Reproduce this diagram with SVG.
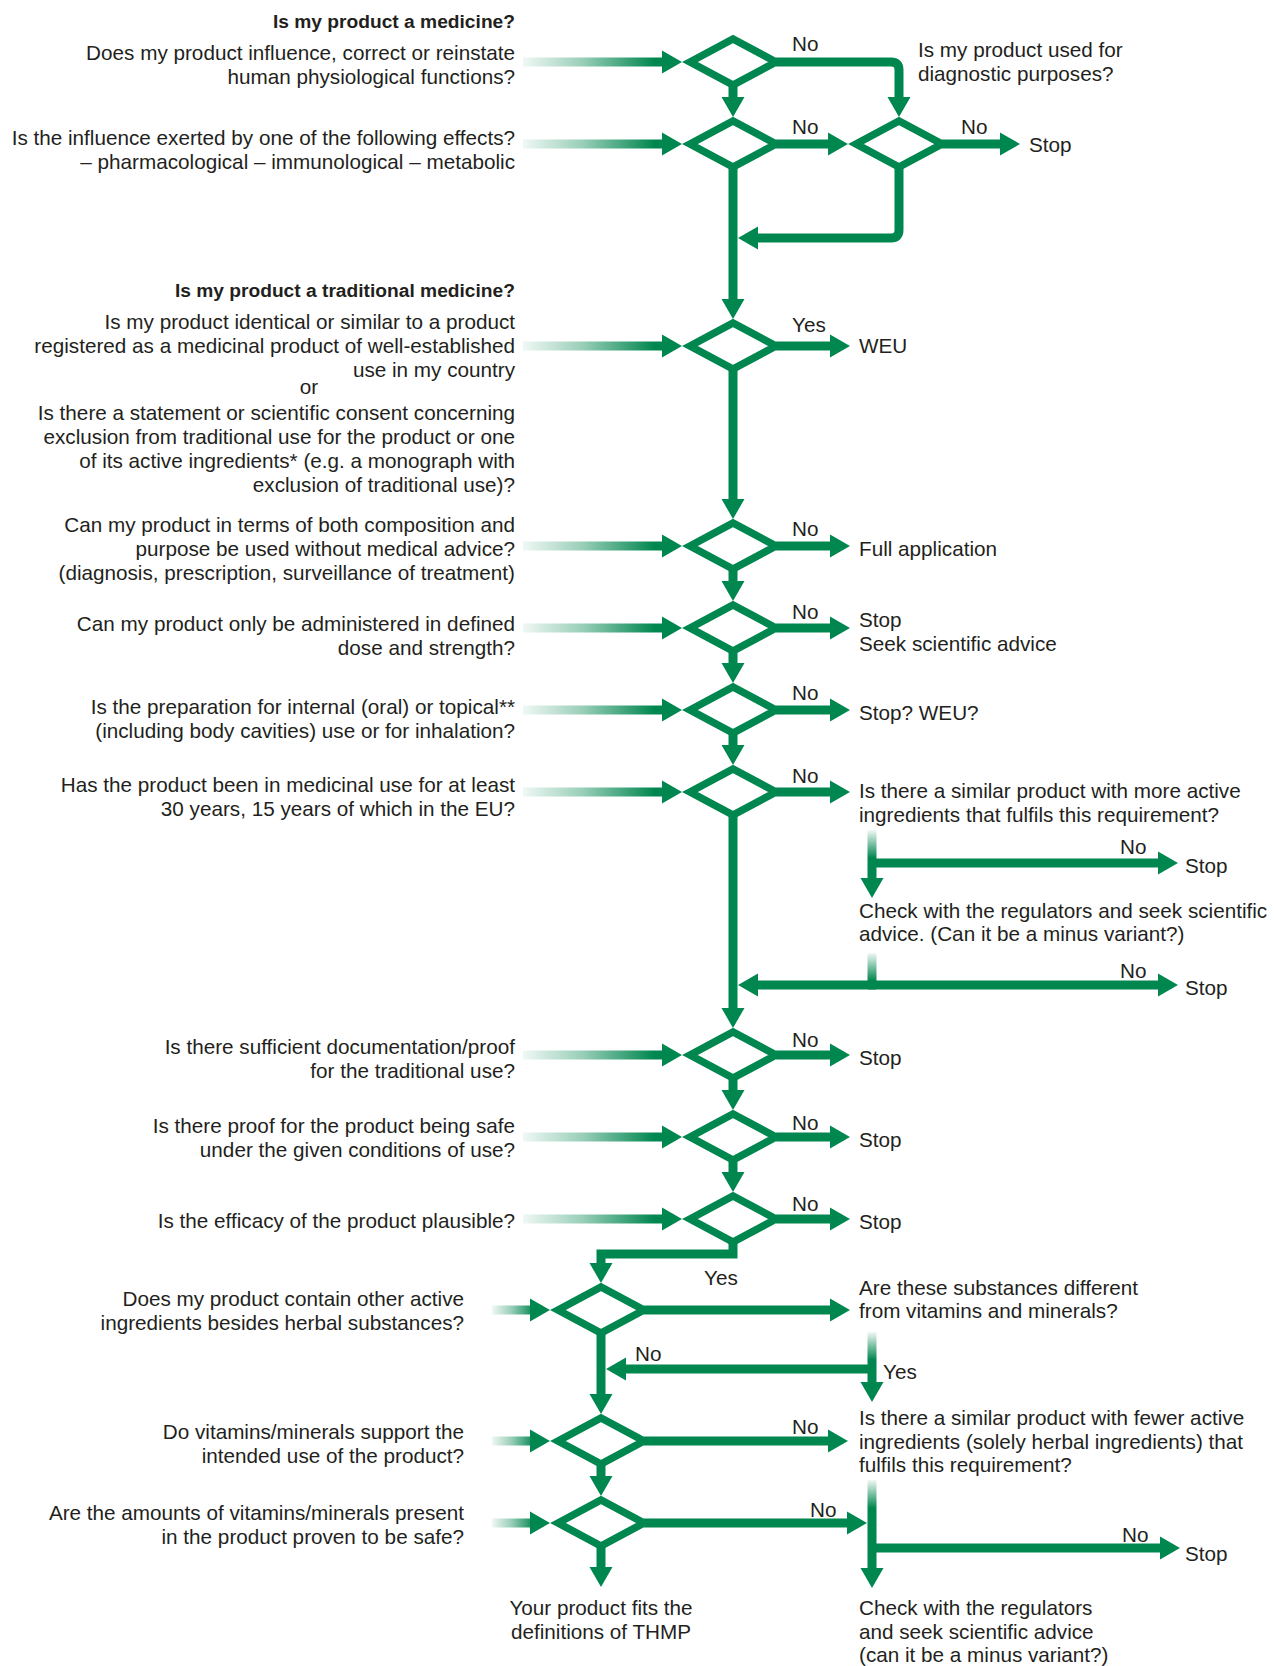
<svg xmlns="http://www.w3.org/2000/svg" xmlns:xlink="http://www.w3.org/1999/xlink" width="1274" height="1666" viewBox="0 0 1274 1666">
<style>
.c{fill:none;stroke:#00864F;stroke-width:9;stroke-linejoin:miter}
.a{marker-end:url(#ah)}
.d{fill:#fff;stroke:#00864F;stroke-width:7.5;stroke-linejoin:miter}
.t{font-family:"Liberation Sans",Arial,sans-serif;font-size:20.7px;fill:#231f20}
.r{text-anchor:end}
.m{text-anchor:middle}
.h{font-weight:bold;font-size:19.2px}
</style>
<defs>
<marker id="ah" viewBox="0 -12 21 24" refX="1" refY="0" markerWidth="21" markerHeight="24" markerUnits="userSpaceOnUse" orient="auto"><path d="M0,-11.5 L20,0 L0,11.5 z" fill="#00864F"/></marker>
<polygon id="dm" points="-43,0 0,-23 43,0 0,23"/>
<linearGradient id="gH" gradientUnits="userSpaceOnUse" x1="523" y1="0" x2="655" y2="0"><stop offset="0" stop-color="#00864F" stop-opacity="0.06"/><stop offset="0.45" stop-color="#00864F" stop-opacity="0.4"/><stop offset="1" stop-color="#00864F" stop-opacity="1"/></linearGradient>
<linearGradient id="gH2" gradientUnits="userSpaceOnUse" x1="492" y1="0" x2="535" y2="0"><stop offset="0" stop-color="#00864F" stop-opacity="0.06"/><stop offset="0.45" stop-color="#00864F" stop-opacity="0.4"/><stop offset="1" stop-color="#00864F" stop-opacity="1"/></linearGradient>
<linearGradient id="gV1" gradientUnits="userSpaceOnUse" x1="0" y1="830" x2="0" y2="858"><stop offset="0" stop-color="#00864F" stop-opacity="0.05"/><stop offset="1" stop-color="#00864F"/></linearGradient>
<linearGradient id="gV2" gradientUnits="userSpaceOnUse" x1="0" y1="953" x2="0" y2="981"><stop offset="0" stop-color="#00864F" stop-opacity="0.05"/><stop offset="1" stop-color="#00864F"/></linearGradient>
<linearGradient id="gV3" gradientUnits="userSpaceOnUse" x1="0" y1="1332" x2="0" y2="1360"><stop offset="0" stop-color="#00864F" stop-opacity="0.05"/><stop offset="1" stop-color="#00864F"/></linearGradient>
<linearGradient id="gV4" gradientUnits="userSpaceOnUse" x1="0" y1="1480" x2="0" y2="1508"><stop offset="0" stop-color="#00864F" stop-opacity="0.05"/><stop offset="1" stop-color="#00864F"/></linearGradient>
</defs>
<rect width="1274" height="1666" fill="#fff"/>

<g id="connectors">
<!-- incoming gradient arrows -->
<path class="c a" style="stroke:url(#gH)" d="M523,62 H663"/>
<path class="c a" style="stroke:url(#gH)" d="M523,144 H663"/>
<path class="c a" style="stroke:url(#gH)" d="M523,346 H663"/>
<path class="c a" style="stroke:url(#gH)" d="M523,546 H663"/>
<path class="c a" style="stroke:url(#gH)" d="M523,628 H663"/>
<path class="c a" style="stroke:url(#gH)" d="M523,710 H663"/>
<path class="c a" style="stroke:url(#gH)" d="M523,792 H663"/>
<path class="c a" style="stroke:url(#gH)" d="M523,1055 H663"/>
<path class="c a" style="stroke:url(#gH)" d="M523,1137 H663"/>
<path class="c a" style="stroke:url(#gH)" d="M523,1219 H663"/>
<path class="c a" style="stroke:url(#gH2)" d="M492,1310 H531"/>
<path class="c a" style="stroke:url(#gH2)" d="M492,1441 H531"/>
<path class="c a" style="stroke:url(#gH2)" d="M492,1523 H531"/>
<!-- top section -->
<path class="c a" d="M733,85 V98"/>
<path class="c a" d="M776,62 H891 Q899,62 899,70 V98"/>
<path class="c a" d="M776,144 H829"/>
<path class="c a" d="M942,144 H1001"/>
<path class="c a" d="M899,167 V230 Q899,238 891,238 H757"/>
<path class="c a" d="M733,167 V300"/>
<!-- traditional medicine column -->
<path class="c a" d="M776,346 H831"/>
<path class="c a" d="M733,369 V500"/>
<path class="c a" d="M776,546 H831"/>
<path class="c a" d="M733,569 V582"/>
<path class="c a" d="M776,628 H831"/>
<path class="c a" d="M733,651 V664"/>
<path class="c a" d="M776,710 H831"/>
<path class="c a" d="M733,733 V746"/>
<path class="c a" d="M776,792 H831"/>
<path class="c a" d="M733,815 V1009"/>
<path class="c a" style="stroke:url(#gV1)" d="M872,830 V879"/>
<path class="c a" d="M872,863 H1159"/>
<path class="c" style="stroke:url(#gV2)" d="M872,953 V985"/>
<path class="c a" d="M876,985 H757"/>
<path class="c a" d="M868,985 H1159"/>
<path class="c a" d="M776,1055 H831"/>
<path class="c a" d="M733,1078 V1091"/>
<path class="c a" d="M776,1137 H831"/>
<path class="c a" d="M733,1160 V1173"/>
<path class="c a" d="M776,1219 H831"/>
<path class="c a" d="M733,1242 V1254 H601 V1264"/>
<!-- lower column -->
<path class="c a" d="M644,1310 H831"/>
<path class="c a" d="M601,1333 V1395"/>
<path class="c a" style="stroke:url(#gV3)" d="M872,1332 V1383"/>
<path class="c a" d="M876,1369 H625"/>
<path class="c a" d="M644,1441 H829"/>
<path class="c a" d="M601,1464 V1477"/>
<path class="c a" d="M644,1523 H848"/>
<path class="c a" style="stroke:url(#gV4)" d="M872,1480 V1569"/>
<path class="c a" d="M872,1548 H1161"/>
<path class="c a" d="M601,1546 V1568"/>
<!-- connector labels -->
<g class="t">
<text x="792" y="51">No</text>
<text x="792" y="134">No</text>
<text x="961" y="134">No</text>
<text x="792" y="332">Yes</text>
<text x="792" y="536">No</text>
<text x="792" y="619">No</text>
<text x="792" y="700">No</text>
<text x="792" y="783">No</text>
<text x="1120" y="854">No</text>
<text x="1120" y="978">No</text>
<text x="792" y="1047">No</text>
<text x="792" y="1130">No</text>
<text x="792" y="1211">No</text>
<text x="704" y="1285">Yes</text>
<text x="635" y="1361">No</text>
<text x="883" y="1379">Yes</text>
<text x="792" y="1434">No</text>
<text x="810" y="1517">No</text>
<text x="1122" y="1542">No</text>
</g>
</g>

<g id="n-header1"><text class="t r h" x="515" y="28">Is my product a medicine?</text></g>
<g id="n-q1"><use href="#dm" class="d" x="733" y="62"/>
<text class="t r" x="515" y="60">Does my product influence, correct or reinstate</text>
<text class="t r" x="515" y="84">human physiological functions?</text></g>
<g id="n-q2"><use href="#dm" class="d" x="733" y="144"/>
<text class="t r" x="515" y="145">Is the influence exerted by one of the following effects?</text>
<text class="t r" x="515" y="169">– pharmacological – immunological – metabolic</text></g>
<g id="n-qdiag"><use href="#dm" class="d" x="899" y="144"/>
<text class="t" x="918" y="57">Is my product used for</text>
<text class="t" x="918" y="81">diagnostic purposes?</text></g>
<g id="n-stop1"><text class="t" x="1029" y="152">Stop</text></g>

<g id="n-header2"><text class="t r h" x="515" y="297">Is my product a traditional medicine?</text></g>
<g id="n-q3"><use href="#dm" class="d" x="733" y="346"/>
<text class="t r" x="515" y="329">Is my product identical or similar to a product</text>
<text class="t r" x="515" y="353">registered as a medicinal product of well-established</text>
<text class="t r" x="515" y="377">use in my country</text>
<text class="t m" x="309" y="394">or</text>
<text class="t r" x="515" y="420">Is there a statement or scientific consent concerning</text>
<text class="t r" x="515" y="444">exclusion from traditional use for the product or one</text>
<text class="t r" x="515" y="468">of its active ingredients* (e.g. a monograph with</text>
<text class="t r" x="515" y="492">exclusion of traditional use)?</text></g>
<g id="n-weu"><text class="t" x="859" y="353">WEU</text></g>
<g id="n-q4"><use href="#dm" class="d" x="733" y="546"/>
<text class="t r" x="515" y="532">Can my product in terms of both composition and</text>
<text class="t r" x="515" y="556">purpose be used without medical advice?</text>
<text class="t r" x="515" y="580">(diagnosis, prescription, surveillance of treatment)</text></g>
<g id="n-full"><text class="t" x="859" y="556">Full application</text></g>
<g id="n-q5"><use href="#dm" class="d" x="733" y="628"/>
<text class="t r" x="515" y="631">Can my product only be administered in defined</text>
<text class="t r" x="515" y="655">dose and strength?</text></g>
<g id="n-stop2"><text class="t" x="859" y="627">Stop</text><text class="t" x="859" y="651">Seek scientific advice</text></g>
<g id="n-q6"><use href="#dm" class="d" x="733" y="710"/>
<text class="t r" x="515" y="714">Is the preparation for internal (oral) or topical**</text>
<text class="t r" x="515" y="738">(including body cavities) use or for inhalation?</text></g>
<g id="n-stopweu"><text class="t" x="859" y="720">Stop? WEU?</text></g>
<g id="n-q7"><use href="#dm" class="d" x="733" y="792"/>
<text class="t r" x="515" y="792">Has the product been in medicinal use for at least</text>
<text class="t r" x="515" y="816">30 years, 15 years of which in the EU?</text></g>
<g id="n-more"><text class="t" x="859" y="798">Is there a similar product with more active</text>
<text class="t" x="859" y="822">ingredients that fulfils this requirement?</text></g>
<g id="n-stop3"><text class="t" x="1185" y="873">Stop</text></g>
<g id="n-check1"><text class="t" x="859" y="918">Check with the regulators and seek scientific</text>
<text class="t" x="859" y="941">advice. (Can it be a minus variant?)</text></g>
<g id="n-stop4"><text class="t" x="1185" y="995">Stop</text></g>
<g id="n-q8"><use href="#dm" class="d" x="733" y="1055"/>
<text class="t r" x="515" y="1054">Is there sufficient documentation/proof</text>
<text class="t r" x="515" y="1078">for the traditional use?</text></g>
<g id="n-stop5"><text class="t" x="859" y="1065">Stop</text></g>
<g id="n-q9"><use href="#dm" class="d" x="733" y="1137"/>
<text class="t r" x="515" y="1133">Is there proof for the product being safe</text>
<text class="t r" x="515" y="1157">under the given conditions of use?</text></g>
<g id="n-stop6"><text class="t" x="859" y="1147">Stop</text></g>
<g id="n-q10"><use href="#dm" class="d" x="733" y="1219"/>
<text class="t r" x="515" y="1228">Is the efficacy of the product plausible?</text></g>
<g id="n-stop7"><text class="t" x="859" y="1229">Stop</text></g>

<g id="n-q11"><use href="#dm" class="d" x="601" y="1310"/>
<text class="t r" x="464" y="1306">Does my product contain other active</text>
<text class="t r" x="464" y="1330">ingredients besides herbal substances?</text></g>
<g id="n-diff"><text class="t" x="859" y="1295">Are these substances different</text>
<text class="t" x="859" y="1318">from vitamins and minerals?</text></g>
<g id="n-q12"><use href="#dm" class="d" x="601" y="1441"/>
<text class="t r" x="464" y="1439">Do vitamins/minerals support the</text>
<text class="t r" x="464" y="1463">intended use of the product?</text></g>
<g id="n-fewer"><text class="t" x="859" y="1425">Is there a similar product with fewer active</text>
<text class="t" x="859" y="1449">ingredients (solely herbal ingredients) that</text>
<text class="t" x="859" y="1472">fulfils this requirement?</text></g>
<g id="n-q13"><use href="#dm" class="d" x="601" y="1523"/>
<text class="t r" x="464" y="1520">Are the amounts of vitamins/minerals present</text>
<text class="t r" x="464" y="1544">in the product proven to be safe?</text></g>
<g id="n-stop8"><text class="t" x="1185" y="1561">Stop</text></g>
<g id="n-thmp"><text class="t m" x="601" y="1615">Your product fits the</text>
<text class="t m" x="601" y="1639">definitions of THMP</text></g>
<g id="n-check2"><text class="t" x="859" y="1615">Check with the regulators</text>
<text class="t" x="859" y="1639">and seek scientific advice</text>
<text class="t" x="859" y="1662">(can it be a minus variant?)</text></g>
</svg>
